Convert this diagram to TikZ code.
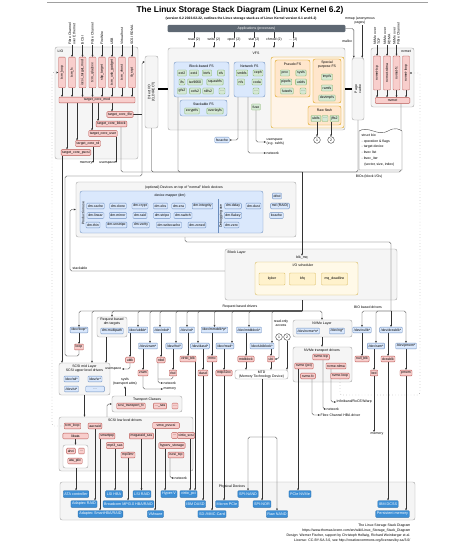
\documentclass[tikz,border=0pt]{standalone}
\usepackage{fontspec}
\setmainfont{Liberation Sans}
\usetikzlibrary{arrows.meta,fit,positioning}
\pgfdeclarelayer{back}
\pgfdeclarelayer{mid}
\pgfsetlayers{back,mid,main}

\definecolor{modfill}{HTML}{F8CECC}
\definecolor{modline}{HTML}{B85450}
\definecolor{devfill}{HTML}{DAE8FC}
\definecolor{devline}{HTML}{6C8EBF}
\definecolor{fsfill}{HTML}{D5E8D4}
\definecolor{fsline}{HTML}{82B366}
\definecolor{schedfill}{HTML}{FFF2CC}
\definecolor{schedline}{HTML}{D6B656}
\definecolor{pseudofill}{HTML}{FFE6CC}
\definecolor{pseudoline}{HTML}{D79B00}
\definecolor{areafill}{HTML}{F5F5F5}
\definecolor{arealine}{HTML}{A0A0A0}
\definecolor{hwfill}{HTML}{3D8FD6}
\definecolor{hwline}{HTML}{2F6FA8}
\definecolor{appfill}{HTML}{5E6873}
\definecolor{wirecol}{HTML}{333333}

\tikzset{
  txt/.style={font=\fontsize{2.6}{3.1}\selectfont, inner sep=0.3pt},
  box/.style={txt, rounded corners=0.6pt, line width=0.25pt, minimum height=4.3pt, inner xsep=0.9pt, inner ysep=0.3pt},
  modbox/.style={box, draw=modline, fill=modfill},
  devbox/.style={box, draw=devline, fill=devfill},
  fsbox/.style={box, draw=fsline, fill=fsfill, minimum height=4.6pt},
  schedbox/.style={box, draw=schedline, fill=schedfill, minimum height=9pt, minimum width=19.5pt},
  hwbox/.style={box, draw=hwline, fill=hwfill, text=white, minimum height=5pt, font=\fontsize{2.8}{3.2}\selectfont},
  appbar/.style={txt, fill=appfill, draw=appfill, text=white, rounded corners=0.8pt, inner sep=0pt},
  area/.style={draw=arealine, fill=areafill, rounded corners=1.6pt, line width=0.3pt, inner sep=0pt},
  blockarea/.style={area, draw=devline, fill=devfill},
  tanarea/.style={area, draw=pseudoline, fill=pseudofill},
  vmod/.style={modbox, rotate=90, minimum height=5.2pt},
  wire/.style={draw=wirecol, line width=0.3pt, rounded corners=1.2pt},
  link/.style={wire, -{Stealth[length=1.6pt,width=1.4pt]}},
  dotlink/.style={link, dotted},
  thickbar/.style={draw=black, line width=1.1pt},
  hop/.style={txt, circle, draw=wirecol, fill=white, line width=0.3pt, minimum size=5pt, inner sep=0pt},
}

\begin{document}
\begin{tikzpicture}[x=0.75pt,y=0.75pt,yscale=-1,xscale=1]
\path[use as bounding box] (0,0) rectangle (474,545);

%Straight Lines (top rule)
\draw[arealine, line width=0.5pt] (47,2) -- (428,2);
% Text Node
\node[font=\bfseries\fontsize{6.3}{7}\selectfont, inner sep=0pt] (title) at (240,10) {The Linux Storage Stack Diagram (Linux Kernel 6.2)};
% Text Node
\node[font=\bfseries\fontsize{2.5}{3}\selectfont, inner sep=0pt] (subtitle) at (241,19) {(version 6.2 2023-02-22, outlines the Linux storage stack as of Linux Kernel version 6.1 and 6.2)};

% containers
\begin{pgfonlayer}{back}
  \node[area, fit={(168,48) (345,130)}] (vfs) {};
  \node[blockarea, fit={(174,62) (229,97)}] (blockfs) {};
  \node[blockarea, fit={(234,62) (265,97)}] (netfs) {};
  \node[blockarea, fit={(180,100) (227,116)}] (stackfs) {};
  \node[tanarea, fill=pseudofill!45, fit={(271,57) (344,128)}] (pseudoarea) {};
  \node[tanarea, fit={(275,60) (310,97)}] (pseudofs) {};
  \node[tanarea, fit={(313,59) (341,103)}] (specialfs) {};
  \node[tanarea, fit={(308,106) (341,125)}] (rawflash) {};
  \node[area, fit={(145,56) (158,128)}] (directio) {};
  \node[area, fit={(352,58) (364,120)}] (pagecache) {};
  \node[area, fit={(55,47) (138,159)}] (lio) {};
  \node[area, fit={(371,48) (414,107)}] (nvmet) {};
  \node[area, fit={(76,182) (296,237)}] (devices) {};
  \node[blockarea, fit={(80,191) (263,233)}] (dmbox) {};
  \node[area, fit={(225,249) (397,300)}] (blocklayer) {};
  \node[area, fill=schedfill!45, draw=schedline, fit={(255,262) (358,295)}] (iosched) {};
  \node[area, fit={(97,317) (127,337)}] (rqdm) {};
  \node[area, fill=white, fit={(235,370) (288,379)}] (mtd) {};
  \node[area, fit={(293,320) (352,337)}] (nvmelayer) {};
  \node[area, fit={(293,347) (352,382)}] (nvmetr) {};
  \node[area, fit={(59,363) (110,395)}] (scsimid) {};
  \node[area, fit={(112,396) (182,412)}] (transport) {};
  \node[area, fit={(59,417) (193,471)}] (scsilld) {};
  \node[area, fill=white, fit={(63,445) (88,468)}] (atabox) {};
  \node[area, fit={(60,482) (415,520)}] (physical) {};
\end{pgfonlayer}

% Applications and system calls
\node[appbar, minimum width=132.75pt, minimum height=5.2pt] (apps) at (256.5,28.5) {Applications (processes)};
\foreach \n/\xx/\tx in {sysread/194/read (2), syswrite/214/write (2), sysopen/234/open (2), sysstat/254/stat (2), syschmod/274/chmod (2), sysmore/293/{\dots{} (2)}}
  \node[txt, fill=white] (\n) at (\xx,40) {\tx};
\node[txt, align=center] (mmaplbl) at (360,21) {mmap (anonymous\\pages)};
\node[txt, anchor=east] (malloclbl) at (353,41) {malloc};

% VFS
\node[txt] (vfslbl) at (256,53) {VFS};
\node[txt] (blockfslbl) at (201.5,66) {Block-based FS};
\foreach \n/\xx/\yy/\tx in {ext2/182/73/ext2, ext4/194/73/ext4, btrfs/207/73/btrfs, xfs/221/73/xfs, ifs/182/82/ifs, iso/195/82/iso9660, squash/215/82/squashfs, gfs/182/91/gfs2, ocfs/195/91/ocfs2, nilfs/208/91/nilfs2, bfsmore/222/91/\dots}
  \node[fsbox] (\n) at (\xx,\yy) {\tx};
\node[txt] (netfslbl) at (249.5,66) {Network FS};
\foreach \n/\xx/\yy/\tx in {smbfs/242/73/smbfs, ceph/258/73/ceph, nfs/241/82/nfs, coda/257/82/coda, nfsmore/256/91/\dots}
  \node[fsbox] (\n) at (\xx,\yy) {\tx};
\node[txt] (stackfslbl) at (203.5,104) {Stackable FS};
\node[fsbox] (ecryptfs) at (192,111) {ecryptfs};
\node[fsbox] (overlayfs) at (215,111) {overlayfs};
\node[fsbox] (fuse) at (256,107) {fuse};
\node[txt] (pseudolbl) at (292.5,64) {Pseudo FS};
\foreach \n/\xx/\yy/\tx in {proc/285/73/proc, sysfs/301/73/sysfs, pipefs/286/82/pipefs, usbfs/301/82/usbfs, futexfs/287/91/futexfs, pseudomore/303/91/\dots}
  \node[fsbox] (\n) at (\xx,\yy) {\tx};
\node[txt, align=center] (speciallbl) at (327,65) {Special\\purpose FS};
\node[fsbox] (tmpfs) at (327,77) {tmpfs};
\node[fsbox] (ramfs) at (327,88) {ramfs};
\node[fsbox] (devtmpfs) at (327,98) {devtmpfs};
\node[txt] (rawlbl) at (324.5,110) {Raw flash};
\node[fsbox] (ubifs) at (316,118.5) {ubifs};
\node[fsbox] (rawmore) at (325,118.5) {\dots};
\node[fsbox] (jffs2) at (334.5,118.5) {jffs2};
\node[hop] (hopubi) at (317,140) {1};
\node[hop] (hopmtd) at (331,140) {2};

% Direct I/O and page cache
\node[txt, rotate=90, align=center] (diolbl) at (directio.center) {Direct I/O\\(O\_DIRECT)};
\node[txt, rotate=90, align=center] (pclbl) at (pagecache.center) {Page\\cache};

% struct bio
\draw[draw=black!70, fill=white, line width=0.3pt] (359,131) .. controls (368,125) and (378,137) .. (388,131) .. controls (395,127) and (399,129) .. (402,131) -- (402,170) -- (359,170) -- cycle;
\node[txt, anchor=north west, align=left, font=\fontsize{2.6}{4.4}\selectfont] (biotxt) at (361,133) {struct bio\\- operation \& flags\\- target device\\- bvec list\\- bvec\_iter\\\hspace*{2pt}(sector, size, index)};
\node[txt] (bioslbl) at (369,177) {BIOs (block I/Os)};

% below VFS
\node[devbox] (fscache) at (222,140) {fscache};
\node[txt, anchor=west, align=left] (userfs) at (266,142) {userspace\\(e.g. sshfs)};
\node[txt, anchor=west] (netvfs) at (266,153) {network};

% LIO
\node[txt, anchor=west] (liolbl) at (57,51.5) {LIO};
\foreach \n/\xx/\tx in {liotcmloop/62/tcm\_loop, liotcmfc/72/tcm\_fc, lioiscsi/82.5/iscsi\_target\_mod, lioqla/92.5/tcm\_qla2xxx, liosbp/102/sbp\_target, liousb/112/tcm\_usb\_gadget, liovhost/122/tcm\_vhost, liosrpt/132/ib\_srpt}
  \node[vmod, minimum width=23pt] (\n) at (\xx,72.5) {\tx};
\foreach \n/\xx/\tx in {lblfcoe/72/{Fibre Channel\\over Ethernet}, lbliscsi/82.5/iSCSI, lblfc/92.5/Fibre Channel, lblfw/102/FireWire, lblusb/112/USB, lblvhost/122/Virtual host, lblsrp/132/SCSI RDMA}
  \node[txt, rotate=90, anchor=west, align=left] (\n) at (\xx,45.5) {\tx};
\node[modbox, minimum width=57pt] (tcmod) at (97,100) {target\_core\_mod};
\node[modbox] (tcfile) at (120,114.5) {target\_core\_file};
\node[modbox] (tciblock) at (111.5,124) {target\_core\_iblock};
\node[modbox] (tcuser) at (103,133.5) {target\_core\_user};
\node[modbox] (tcrd) at (88,143.5) {target\_core\_rd};
\node[modbox] (tcpscsi) at (76,152.5) {target\_core\_pscsi};
\node[txt, anchor=east] (memlio) at (93,163) {memory};
\node[txt, anchor=east] (userlio) at (116,163) {userspace};

% nvmet
\node[txt] (nvmetlbl) at (406,51.5) {nvmet};
\foreach \n/\xx/\tx in {nvmettcp/377/nvmet-tcp, nvmetrdma/387/nvmet-rdma, nvmetfc/396.5/nvmet-fc, nvmetloop/406/nvmet-loop}
  \node[vmod, minimum width=25.5pt] (\n) at (\xx,73) {\tx};
\foreach \n/\xx/\tx in {lblntcp/377/{NVMe over\\TCP}, lblnrdma/387/{NVMe over\\RDMA}, lblnfc/396.5/{NVMe over\\Fibre Channel}}
  \node[txt, rotate=90, anchor=west, align=left] (\n) at (\xx,45.5) {\tx};
\node[modbox, minimum width=26pt] (nvmetbar) at (392.5,100.5) {nvmet};

% devices on top of block devices
\node[txt] (devlbl) at (184,187.5) {(optional) Devices on top of "normal" block devices};
\node[txt] (dmlbl) at (170,196) {device mapper (dm)};
\node[txt, rotate=90] (produse) at (83.2,213) {Production use};
\node[txt, rotate=90] (debuguse) at (221,216) {Debugging use};
\draw[devline, line width=0.3pt] (218,199) -- (218,233);
\foreach \n/\xx/\yy/\tx in {dmcache/95.5/206/dm-cache, dmclone/118/206/dm-clone, dmcrypt/140/206/dm-crypt, dmebs/160.5/206/dm-ebs, dmera/178.5/206/dm-era, dminteg/202.5/206/dm-integrity, dmlinear/95.5/215.5/dm-linear, dmmirror/118/215.5/dm-mirror, dmraid/140/215.5/dm-raid, dmstripe/162/215.5/dm-stripe, dmswitch/183/215.5/dm-switch, dmthin/93/225/dm-thin, dmunstripe/116.5/225/dm-unstripe, dmverity/141/225/dm-verity, dmwrite/169/225/dm-writecache, dmzoned/197/225/dm-zoned, dmdelay/233/206/dm-delay, dmdust/253.5/206/dm-dust, dmflakey/233/215.5/dm-flakey, dmzero/231.5/225/dm-zero, drbd/277/196/drbd, mdraid/280/206/md (RAID), bcache/276.5/215.5/bcache}
  \node[devbox] (\n) at (\xx,\yy) {\tx};
\node[txt, anchor=south west] (stacklbl) at (72,270) {stackable};

% block layer
\node[txt, anchor=west] (bllbl) at (227,252.5) {Block Layer};
\node[txt] (blkmq) at (302,258) {blk\_mq};
\node[txt] (ioslbl) at (303,265.5) {I/O scheduler};
\node[schedbox] (kyber) at (272,279) {kyber};
\node[schedbox] (bfq) at (302.5,279) {bfq};
\node[schedbox] (mqdl) at (334.5,279) {mq\_deadline};
\coordinate (biojoin) at (302,172);
\coordinate (bioturn) at (302,242);
\coordinate (reqjoin) at (302,311);
\coordinate (biobus) at (391,311);

% request based drivers
\node[txt] (reqlbl) at (240,307) {Request based drivers};
\node[devbox] (loopdev) at (79,330) {/dev/loop*};
\node[txt, align=center] (rqdmlbl) at (112,322) {Request based\\dm targets};
\node[devbox] (multipath) at (112,331) {dm-multipath};
\node[devbox] (ublkdev) at (138,330) {/dev/ublkb*};
\node[devbox] (nbddev) at (162,330) {/dev/nbd*};
\node[devbox] (vddev) at (187,330) {/dev/vd*};
\node[devbox] (mmcdev) at (214.5,330) {/dev/mmcblk*p*};
\node[devbox] (mtddev) at (249,330) {/dev/mtdblock*};
\node[devbox] (zramdev) at (148,346) {/dev/zram*};
\node[devbox] (rbddev) at (174,346) {/dev/rbd*};
\node[devbox] (dasddev) at (200,346) {/dev/dasd*};
\node[devbox] (rssddev) at (225,346) {/dev/rssd*};
\node[devbox] (ubidev) at (262,346) {/dev/ubiblock*};
\node[modbox] (loop) at (79,347) {loop};
\node[modbox] (ublk) at (130,360) {ublk};
\node[modbox] (nbd) at (161,360) {nbd};
\node[modbox] (virtioblk) at (188,359) {virtio\_blk};
\node[modbox] (mmc) at (212,359) {mmc};
\node[modbox] (mtdblock) at (246,359) {mtdblock};
\node[modbox] (ubi) at (271,359) {ubi};
\node[modbox] (zram) at (143,373) {zram};
\node[modbox] (rbd) at (173,373) {rbd};
\node[modbox] (dasd) at (203,373) {dasd};
\node[modbox] (mtip) at (224,373) {mtip32xx};
\node[txt, anchor=east] (userrq) at (122,369) {userspace};
\node[txt, anchor=west] (netrq) at (163,383) {network};
\node[txt, anchor=west] (memrq) at (163,389) {memory};
\node[txt, align=center] (rolbl) at (281,323) {read-only\\access};
\node[hop] (hopubi2) at (279,337) {1};
\node[hop] (hopmtd2) at (287,337) {2};
\node[txt, align=center] (mtdlbl) at (mtd.center) {MTD\\(Memory Technology Device)};

% NVMe
\node[txt] (nvmelbl) at (322,323.5) {NVMe Layer};
\node[devbox] (nvmedev) at (308,331) {/dev/nvme*n*};
\node[devbox] (ngdev) at (337,331) {/dev/ng*};
\node[txt] (nvmetrlbl) at (322,350.5) {NVMe transport drivers};
\node[modbox] (nvmetcp) at (321,357) {nvme-tcp};
\node[modbox] (nvmepci) at (304,366) {nvme (pci)};
\node[modbox] (nvmerdma) at (336,366) {nvme-rdma};
\node[modbox] (nvmefc) at (308,376) {nvme-fc};
\node[modbox] (nvmeloop) at (340,376) {nvme-loop};
\node[txt, anchor=west] (iblbl) at (336,402) {Infiniband/RoCE/iWarp};
\node[txt, anchor=west] (netnv) at (326,409) {network};
\node[txt, anchor=west] (fclbl) at (320,415) {Fibre Channel HBA driver};
\coordinate (nloopturn) at (420,395);

% BIO based drivers
\node[txt] (biolbl) at (368,307) {BIO based drivers};
\node[devbox] (nullbdev) at (362,330) {/dev/nullb*};
\node[devbox] (dcssdev) at (391,330) {/dev/dcssblk*};
\node[devbox] (ramdev) at (376,346) {/dev/ram*};
\node[devbox] (pmemdev) at (406,346) {/dev/pmem*};
\node[modbox] (nullblk) at (362,359) {null\_blk};
\node[modbox] (dcssblk) at (388,359) {dcssblk};
\node[modbox] (brd) at (374,373) {brd};
\node[modbox] (pmem) at (406,373) {pmem};
\node[txt] (membio) at (377,434) {memory};

% SCSI
\node[txt, align=center] (scsimidlbl) at (84.5,368.5) {SCSI mid Layer\\SCSI upper level drivers};
\node[devbox] (sddev) at (71.5,379) {/dev/sd*};
\node[devbox] (srdev) at (95,379) {/dev/sr*};
\node[devbox] (stdev) at (71.5,389) {/dev/st*};
\node[devbox, minimum width=14pt] (scsimore) at (95,389) {\dots};
\node[txt, align=center] (sysfslbl) at (125,382) {sysfs\\(transport attrs)};
\node[txt] (translbl) at (147,399.5) {Transport Classes};
\node[modbox] (stfc) at (131,406) {scsi\_transport\_fc};
\node[modbox] (stsas) at (160,406) {\dots\_sas};
\node[modbox] (stmore) at (175,406) {\dots};
\node[txt] (lldlbl) at (125,420) {SCSI low level drivers};
\node[modbox] (lldtcmloop) at (72.5,426) {tcm\_loop};
\node[modbox] (aacraid) at (95,426) {aacraid};
\node[modbox, minimum width=19pt] (libata) at (75.5,436) {libata};
\node[modbox] (smartpqi) at (107,436) {smartpqi};
\node[modbox] (megaraid) at (141.5,436) {megaraid\_sas};
\node[modbox] (mpt3sas) at (115,445.5) {mpt3\_sas};
\node[modbox] (mpi3mr) at (128,455) {mpi3mr};
\node[modbox] (ahci) at (71,451) {ahci};
\node[modbox] (atamore) at (81.5,451) {\dots};
\node[modbox] (atapiix) at (75,461) {ata\_piix};
\node[modbox, minimum width=20pt] (vmwpvscsi) at (166,425.5) {vmw\_pvscsi};
\node[modbox] (lldmore) at (174.5,435.5) {\dots};
\node[modbox] (virtioscsi) at (186,435.5) {virtio\_scsi};
\node[modbox] (hyperv) at (172,445.5) {hyperv\_storage};
\node[modbox] (iscsitcp) at (176,455) {iscsi\_tcp};
\node[txt, anchor=west] (netlld) at (174,478) {network};
\coordinate (tloopturn) at (52,300);

% physical devices
\node[txt] (physlbl) at (232,486.5) {Physical Devices};
\node[hwbox] (hwata) at (76,494) {ATA controller};
\node[hwbox] (hwlsihba) at (114,494) {LSI HBA};
\node[hwbox] (hwlsiraid) at (142,494) {LSI RAID};
\node[hwbox] (hwhyperv) at (169,494) {Hyper-V};
\node[hwbox] (hwvirtio) at (188.5,494) {virtio\_pci};
\node[hwbox] (hwspinand) at (248,494) {SPI-NAND};
\node[hwbox] (hwnvme) at (300,494) {PCIe NVMe};
\node[hwbox] (hwaacraid) at (84,504) {Adaptec RAID};
\node[hwbox] (hwbroadcom) at (128.5,504) {Broadcom MPI3.0 HBA/RAID};
\node[hwbox] (hwdasd) at (195.5,504) {IBM DASD};
\node[hwbox] (hwmicron) at (227,504) {Micron PCIe};
\node[hwbox] (hwspinor) at (262,504) {SPI-NOR};
\node[hwbox] (hwdcss) at (388,504) {IBM DCSS};
\node[hwbox] (hwsmarthba) at (100.5,514) {Adaptec SmartHBA/RAID};
\node[hwbox] (hwvmware) at (155.5,514) {VMware};
\node[hwbox] (hwsdmmc) at (212,514) {SD-/MMC-Card};
\node[hwbox] (hwrawnand) at (277,514) {Raw NAND};
\node[hwbox] (hwpmem) at (392.5,514) {Persistent memory};
\coordinate (mtdsplit) at (262,437);

% credits
\node[txt, anchor=north east, align=right, font=\fontsize{2.6}{3.75}\selectfont] (credits) at (411,523.5) {The Linux Storage Stack Diagram\\https://www.thomas-krenn.com/en/wiki/Linux\_Storage\_Stack\_Diagram\\Design: Werner Fischer, support by Christoph Hellwig, Richard Weinberger et al.\\License: CC-BY-SA 3.0, see http://creativecommons.org/licenses/by-sa/3.0/};

% loop back paths
\coordinate (loopa) at (65,356);
\coordinate (loopb) at (142,176);
\coordinate (loopc) at (142,62);
\coordinate (stacka) at (70,271);

% connectors
\begin{pgfonlayer}{mid}
  \foreach \n in {sysread,syswrite,sysopen,sysstat,syschmod,sysmore} {
    \draw[wire] (apps.south -| \n) -- (\n.north);
    \draw[link] (\n.south) -- (\n.south |- vfs.north);
  }
  \draw[thickbar] (directio.east |- vfs.west) -- (vfs.west);
  \draw[thickbar] (vfs.east) -- (pagecache.west |- vfs.east);
  \draw[link] (apps.east) -| ([xshift=1.5pt]pagecache.north west);
  \draw[link] (mmaplbl.south -| pagecache.north east) ++(-1.5pt,0) -- ([xshift=-1.5pt]pagecache.north east);
  % VFS outputs
  \draw[link] (fuse.south) |- (userfs.west);
  \draw[link] (netfs.south -| 248,0) |- (netvfs.west);
  \draw[link] (netfs.south -| 238,0) |- (fscache.east);
  \draw[link] (ubifs.south -| hopubi) -- (hopubi.north);
  \draw[link] (jffs2.south -| hopmtd) -- (hopmtd.north);
  % LIO
  \foreach \l/\m in {lblfcoe/liotcmfc, lbliscsi/lioiscsi, lblfc/lioqla, lblfw/liosbp, lblusb/liousb, lblvhost/liovhost, lblsrp/liosrpt}
    \draw[link] (\l.west) -- (\m.east);
  \foreach \m in {liotcmloop,liotcmfc,lioiscsi,lioqla,liosbp,liousb,liovhost,liosrpt}
    \draw[link] (\m.west) -- (\m.west |- tcmod.north);
  \draw[link] (tcmod.south -| 112,0) -- (tcfile.north -| 112,0);
  \draw[link] (tcmod.south -| 98,0) -- (tciblock.north -| 98,0);
  \draw[link] (tcmod.south -| 92,0) -- (tcuser.north -| 92,0);
  \draw[link] (tcmod.south -| 77,0) -- (tcrd.north -| 77,0);
  \draw[link] (tcmod.south -| 67,0) -- (tcpscsi.north -| 67,0);
  \draw[link] (tcrd.south -| memlio.east) -- (memlio.east);
  \draw[link] (tcuser.south -| userlio.east) -- (userlio.east);
  \draw[wire] (tcfile.east) -- (tcfile.east -| loopc);
  \draw[link] (tcpscsi.south -| 62,0) -- (scsimid.north -| 62,0);
  \draw[dotlink] (lldtcmloop.west) -| (tloopturn) |- (liotcmloop.north);
  % BIOs
  \draw[wire] (tciblock.south -| 121,0) |- (biojoin);
  \draw[wire] (directio.south) |- (biojoin);
  \draw[wire] (blockfs.south -| 178,0) |- (biojoin);
  \draw[wire] (pagecache.south) |- (biojoin);
  \foreach \l/\m in {lblntcp/nvmettcp, lblnrdma/nvmetrdma, lblnfc/nvmetfc}
    \draw[link] (\l.west) -- (\m.east);
  \foreach \m in {nvmettcp,nvmetrdma,nvmetfc,nvmetloop}
    \draw[link] (\m.west) -- (\m.west |- nvmetbar.north);
  \draw[wire] (nvmetbar.south -| 401,0) |- (biojoin);
  \draw[link] (biojoin) -- (blkmq.north);
  \draw[wire] (devices.south -| 185,0) |- (bioturn);
  \draw[wire] (bioturn) -| (biobus);
  \draw[link] (loop.south) |- (loopa) |- (loopb) -- (loopc) -- (directio.west |- loopc);
  \draw[link] (blocklayer.west |- stacka) -- (stacka) |- (devices.west);
  % request based
  \draw[wire] (blocklayer.south -| reqjoin) -- (reqjoin);
  \draw[link] (reqjoin) -| (loopdev.north);
  \draw[link] (reqjoin) -| (scsimid.north -| 92,0);
  \draw[link] (reqjoin) -| (rqdm.north);
  \draw[link] (reqjoin) -| (ublkdev.north);
  \draw[link] (reqjoin) -| (zramdev.north -| 150,0);
  \draw[link] (reqjoin) -| (nbddev.north -| 160,0);
  \draw[link] (reqjoin) -| (rbddev.north -| 176,0);
  \draw[link] (reqjoin) -| (vddev.north);
  \draw[link] (reqjoin) -| (dasddev.north -| 198,0);
  \draw[link] (reqjoin) -| (mmcdev.north);
  \draw[link] (reqjoin) -| (rssddev.north -| 232,0);
  \draw[link] (reqjoin) -| (mtddev.north);
  \draw[link] (reqjoin) -| (ubidev.north -| 272,0);
  \draw[link] (reqjoin) -| (nvmelayer.north -| 322,0);
  \draw[link] (loopdev.south) -- (loop.north);
  \draw[link] (rqdm.south -| 106,0) -- (scsimid.north -| 106,0);
  \draw[link] (ublkdev.south -| ublk) -- (ublk.north);
  \draw[link] (zramdev.south -| zram) -- (zram.north);
  \draw[link] (nbddev.south -| nbd) -- (nbd.north);
  \draw[link] (rbddev.south -| rbd) -- (rbd.north);
  \draw[link] (vddev.south -| virtioblk) -- (virtioblk.north);
  \draw[link] (dasddev.south -| dasd) -- (dasd.north);
  \draw[link] (mmcdev.south -| mmc) -- (mmc.north);
  \draw[link] (rssddev.south -| mtip) -- (mtip.north);
  \draw[link] (mtddev.south -| mtdblock) -- (mtdblock.north);
  \draw[link] (ubidev.south -| ubi) -- (ubi.north);
  \draw[link] (ublk.south) |- (userrq.east);
  \draw[link] (nbd.south -| 158,0) |- (netrq.west);
  \draw[wire] (rbd.south) |- (158,379);
  \draw[link] (zram.south) |- (memrq.west);
  \draw[link] (mtdblock.south) -- (mtdblock.south |- mtd.north);
  \draw[link] (ubi.south) -- (ubi.south |- mtd.north);
  \draw[link] (hopubi2.south) |- (ubi.east);
  \draw[link] (hopmtd2.south) -- (hopmtd2.south |- mtd.north);
  \draw[wire] (mtd.south -| mtdsplit) -- (mtdsplit);
  \draw[link] (mtdsplit) -| (hwspinand.north);
  \draw[link] (mtdsplit) -- (hwspinor.north);
  \draw[link] (mtdsplit) -| (hwrawnand.north);
  % NVMe
  \draw[link] (nvmelayer.south -| 322,0) -- (nvmetr.north -| 322,0);
  \draw[link] (nvmepci.south -| 298,0) -- (hwnvme.north -| 298,0);
  \draw[link] (nvmefc.south -| 312,0) |- (fclbl.west);
  \draw[link] (nvmetcp.south -| 323,0) |- (netnv.west);
  \draw[link] (nvmerdma.south -| 331,0) |- (iblbl.west);
  \draw[dotlink] (nvmeloop.south) |- (nloopturn) |- (nvmetloop.south);
  % BIO based
  \draw[link] (biobus) -| (nullbdev.north);
  \draw[link] (biobus) -| (ramdev.north);
  \draw[link] (biobus) -- (biobus |- dcssdev.north);
  \draw[link] (biobus) -| (pmemdev.north);
  \draw[link] (nullbdev) -- (nullblk);
  \draw[link] (dcssdev.south -| dcssblk) -- (dcssblk.north);
  \draw[link] (ramdev.south -| brd) -- (brd.north);
  \draw[link] (pmemdev) -- (pmem);
  \draw[link] (brd.south) -- (brd.south |- membio.north);
  \draw[link] (dcssblk.south) -- (dcssblk.south |- hwdcss.north);
  \draw[link] (pmem.south) -- (pmem.south |- hwpmem.north);
  % SCSI
  \draw[link] (scsimid.south) -- (scsilld.north -| scsimid.south);
  \draw[link] (scsilld.north -| 107,0) |- (transport.west);
  \draw[link] (transport.north -| sysfslbl) -- (sysfslbl.south);
  \draw[link] (libata.south) -- (libata.south |- atabox.north);
  \draw[link] (atabox.south -| hwata) -- (hwata.north);
  \draw[link] (aacraid.south) -- (aacraid.south |- hwaacraid.north);
  \draw[link] (smartpqi.south -| 100,0) -- (hwsmarthba.north -| 100,0);
  \draw[link] (mpt3sas.south) -- (mpt3sas.south |- hwlsihba.north);
  \draw[link] (mpi3mr.south) -- (mpi3mr.south |- hwbroadcom.north);
  \draw[link] (megaraid.south) -- (megaraid.south |- hwlsiraid.north);
  \draw[link] (vmwpvscsi.south -| 155,0) -- (hwvmware.north -| 155,0);
  \draw[link] (hyperv.south -| 165,0) -- (hwhyperv.north -| 165,0);
  \draw[link] (virtioscsi.south -| 190,0) -- (hwvirtio.north -| 190,0);
  \draw[link] (virtioblk.south -| 195,0) -- (hwvirtio.north -| 195,0);
  \draw[link] (dasd.south) -- (dasd.south |- hwdasd.north);
  \draw[link] (mmc.south) -- (mmc.south |- hwsdmmc.north);
  \draw[link] (mtip.south) -- (mtip.south |- hwmicron.north);
  \draw[link] (iscsitcp.south -| 170,0) |- (netlld.west);
\end{pgfonlayer}

\end{tikzpicture}
\end{document}
